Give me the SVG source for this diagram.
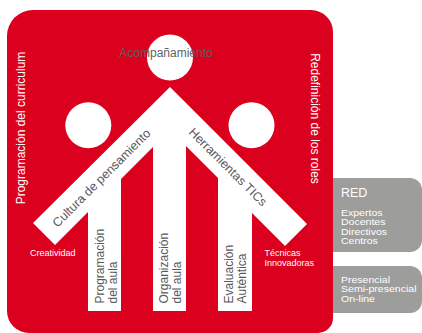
<svg xmlns="http://www.w3.org/2000/svg" width="422" height="333" viewBox="0 0 422 333">
<style>
.t{font-family:"Liberation Sans",Arial,sans-serif;}
.w{fill:#ffffff;}
.d{fill:#58585a;}
.s{font-size:9.3px;}
.gbox{fill:#9d9d9c;}
.red{fill:#da001e;}
</style>
<rect width="422" height="333" fill="#ffffff"/>
<g id="red-box">
<rect class="gbox" x="300" y="178" width="122" height="74" rx="12"/>
<text class="t w" x="341" y="197" font-size="12.5">RED</text>
<text class="t w s" x="341" y="215.5" textLength="41.5" lengthAdjust="spacingAndGlyphs">Expertos</text>
<text class="t w s" x="341" y="225" textLength="44.4" lengthAdjust="spacingAndGlyphs">Docentes</text>
<text class="t w s" x="341" y="234.5" textLength="46" lengthAdjust="spacingAndGlyphs">Directivos</text>
<text class="t w s" x="341" y="244" textLength="36.8" lengthAdjust="spacingAndGlyphs">Centros</text>
</g>
<g id="mode-box">
<rect class="gbox" x="300" y="266" width="122" height="47" rx="12"/>
<text class="t w s" x="341" y="282.5" textLength="49" lengthAdjust="spacingAndGlyphs">Presencial</text>
<text class="t w s" x="341" y="292" textLength="75.5" lengthAdjust="spacingAndGlyphs">Semi-presencial</text>
<text class="t w s" x="341" y="301.5" textLength="34" lengthAdjust="spacingAndGlyphs">On-line</text>
</g>
<g id="main">
<path class="red" d="M33,10 H311 A22,22 0 0 1 333,32 V318 A15,15 0 0 1 318,333 H29 A22,22 0 0 1 7,311 V36 A26,26 0 0 1 33,10 Z"/>
</g>
<g id="figure">
<circle cx="170" cy="57.5" r="23" fill="#ffffff"/>
<circle cx="88.3" cy="125.3" r="23" fill="#ffffff"/>
<circle cx="251.5" cy="125.3" r="23" fill="#ffffff"/>
<path fill="#ffffff" d="M170,87 L307,224 L285,246 L252,213 V311 H218 V178 L186,146 V311 H153 V147 L121,179 V311 H88 V212 L55,245 L33,223 Z"/>
</g>
<g id="acompanamiento">
<text class="t" x="166" y="57" font-size="12" fill="#5f5f5f" text-anchor="middle">Acompañamiento</text>
</g>
<g id="programacion-curriculum">
<text class="t w" transform="translate(25,128) rotate(-90)" font-size="12" text-anchor="middle">Programación del curriculum</text>
</g>
<g id="redefinicion-roles">
<text class="t w" transform="translate(311,118.5) rotate(90)" font-size="12" text-anchor="middle">Redefinición de los roles</text>
</g>
<g id="cultura">
<text class="t d" transform="translate(104.5,181) rotate(-45)" font-size="12.5" text-anchor="middle">Cultura de pensamiento</text>
</g>
<g id="herramientas">
<text class="t d" transform="translate(225,170) rotate(45)" font-size="12.5" text-anchor="middle">Herramientas TICs</text>
</g>
<g id="creatividad">
<text class="t w" x="30" y="256" font-size="9">Creatividad</text>
</g>
<g id="tecnicas">
<text class="t w" x="264.5" y="256" font-size="9">Técnicas</text>
<text class="t w" x="264.5" y="265.5" font-size="9">Innovadoras</text>
</g>
<g id="leg-programacion">
<text class="t d" transform="translate(103.5,303.5) rotate(-90)" font-size="12">Programación</text>
<text class="t d" transform="translate(116.5,303.5) rotate(-90)" font-size="12">del aula</text>
</g>
<g id="leg-organizacion">
<text class="t d" transform="translate(168,303.5) rotate(-90)" font-size="12">Organización</text>
<text class="t d" transform="translate(181,303.5) rotate(-90)" font-size="12">del aula</text>
</g>
<g id="leg-evaluacion">
<text class="t d" transform="translate(233,303.5) rotate(-90)" font-size="12">Evaluación</text>
<text class="t d" transform="translate(245.5,303.5) rotate(-90)" font-size="12">Auténtica</text>
</g>
<g id="connectors"></g>
</svg>
